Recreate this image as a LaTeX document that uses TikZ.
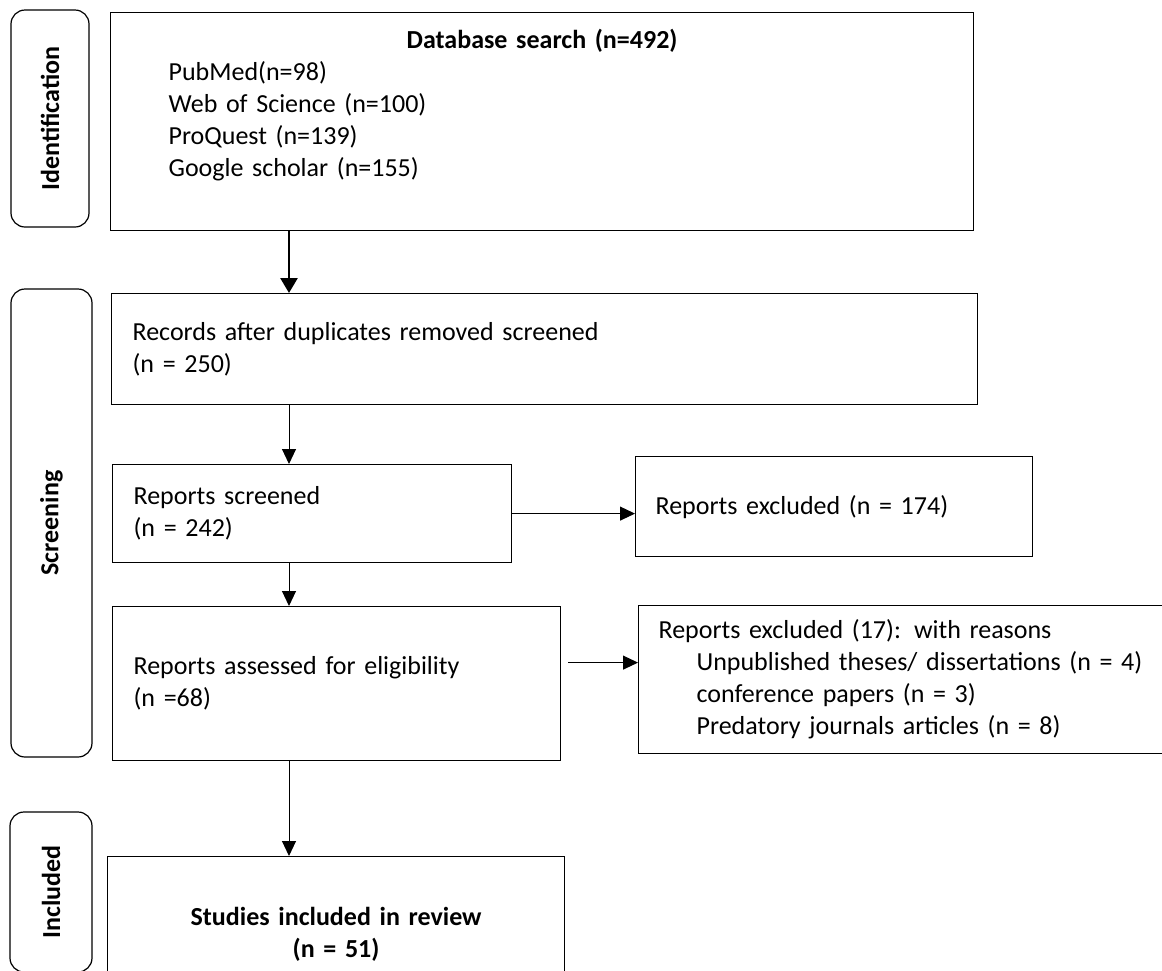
\documentclass[tikz,border=0pt]{standalone}
\usepackage{fontspec}
\setmainfont{Carlito}
\usepackage{tikz}
\usetikzlibrary{arrows.meta}
\usetikzlibrary{positioning}
\tikzset{
  box/.style = {
    draw, line width = 0.6pt,
    anchor = north west,
    inner xsep = 10.5pt, inner ysep = 0pt,
    align = left,
    font = \fontsize{13}{16}\selectfont,
  },
  phase/.style = {
    draw, line width = 0.6pt,
    rounded corners = 7pt,
    rotate = 90, inner sep = 0pt,
    font = \bfseries\fontsize{13}{16}\selectfont,
  },
  flow/.style = {
    line width = 0.5pt,
    -{Triangle[width = 7pt, length = 7.5pt]},
  },
}

\begin{document}
\begin{tikzpicture}[x = 0.5pt, y = -0.5pt]
  \useasboundingbox (0,0) rectangle (1162,970);
  \clip (0,0) rectangle (1162,970);

  % Phase labels
  \node[phase, minimum width = 108.5pt, minimum height = 39pt] (idlab) at (50,118.5) {Identification};
  \node[phase, minimum width = 234pt, minimum height = 40.5pt] (scrlab) at (51.5,523) {Screening};
  \node[phase, minimum width = 80pt, minimum height = 41pt] (inclab) at (51,892) {Included};

  % Boxes
  \node[box, minimum width = 431.5pt, minimum height = 109pt, inner sep = 0pt] (db) at (110,12) {};
  \node[anchor = north, inner sep = 0pt, text width = 373.5pt, align = left,
        font = \fontsize{13}{16}\selectfont] (dbtext) at (db.north |- 0,29)
    {\makebox[373.5pt][c]{\textbf{Database search (n=492)}}\\
     PubMed(n=98)\\
     Web of Science (n=100)\\
     ProQuest (n=139)\\
     Google scholar (n=155)};
  \node[box, text width = 412pt, minimum height = 55.5pt] (rec) at (111,293)
    {Records after duplicates removed screened\\(n = 250)};
  \node[box, text width = 178.5pt, minimum height = 49pt] (scr) at (112,464)
    {Reports screened\\(n = 242)};
  \node[box, inner xsep = 10pt, text width = 178.5pt, minimum height = 50pt] (exc1) at (635,456)
    {Reports excluded (n = 174)};
  \node[box, text width = 203pt, minimum height = 77pt] (ass) at (112,606)
    {Reports assessed for eligibility\\(n =68)};
  \node[box, inner xsep = 10pt, text width = 256pt, minimum height = 74pt] (exc2) at (638,605)
    {Reports excluded (17): with reasons\\
     \hspace*{19pt}Unpublished theses/ dissertations (n = 4)\\
     \hspace*{19pt}conference papers (n = 3)\\
     \hspace*{19pt}Predatory journals articles (n = 8)};
  \node[box, text width = 207.5pt, minimum height = 78pt, align = center,
        font = \bfseries\fontsize{13}{16}\selectfont] (stud) at (107,856)
    {Studies included in review\\(n = 51)};

  % Connectors
  \coordinate (spine) at (289,0);
  \draw[line width = 1.35pt, -{Triangle[width = 8.5pt, length = 7.5pt]}]
    (spine |- db.south) -- (spine |- rec.north);
  \draw[flow] (spine |- rec.south) -- (spine |- scr.north);
  \draw[flow] (spine |- scr.south) -- (spine |- ass.north);
  \draw[flow] (spine |- ass.south) -- (spine |- stud.north);
  \draw[flow] (scr.east) -- (scr.east -| exc1.west);
  \coordinate (elig) at ([shift = {(7,-21)}]ass.east);
  \draw[flow] (elig) -- (elig -| exc2.west);
\end{tikzpicture}
\end{document}
